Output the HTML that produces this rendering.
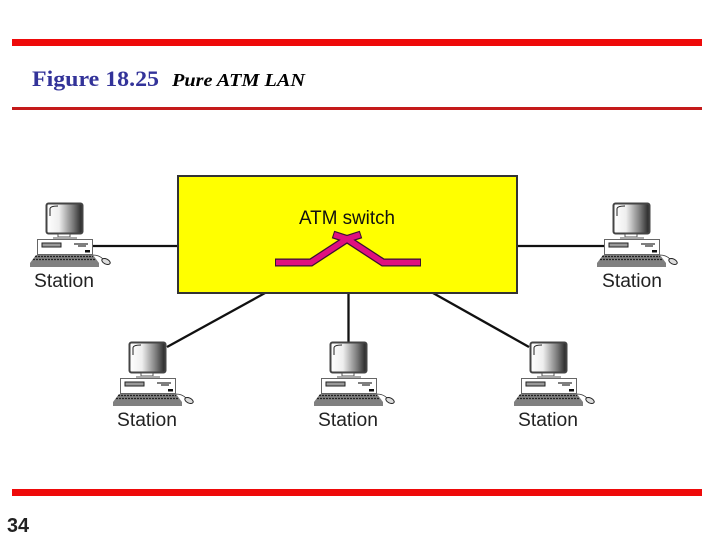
<!DOCTYPE html>
<html>
<head>
<meta charset="utf-8">
<style>
html,body{margin:0;padding:0;background:#fff;width:720px;height:540px;overflow:hidden}
svg{display:block}
</style>
</head>
<body>
<svg width="720" height="540" viewBox="0 0 720 540" xmlns="http://www.w3.org/2000/svg">
<defs>
<linearGradient id="scr" x1="0" y1="0" x2="1" y2="0">
<stop offset="0" stop-color="#fff"/><stop offset=".35" stop-color="#eee"/><stop offset=".75" stop-color="#777"/><stop offset="1" stop-color="#222"/>
</linearGradient>
<g id="st">
<rect x="46.5" y="203.5" width="36" height="30" rx="2" fill="url(#scr)" stroke="#444" stroke-width="2"/>
<path d="M50 216 V209 Q50 206 58 206" fill="none" stroke="#222" stroke-width="1"/>
<rect x="58" y="234" width="12" height="3" fill="#fff" stroke="#555" stroke-width="1"/>
<rect x="53" y="237" width="24" height="2" fill="#aaa"/>
<rect x="37.5" y="239.5" width="55" height="15" fill="#fff" stroke="#666" stroke-width="1"/>
<rect x="42" y="243" width="19" height="4" fill="#999" stroke="#222" stroke-width="1"/>
<path d="M74 244 H88 M78 246 H86" stroke="#333" stroke-width="1.2"/>
<rect x="85" y="250" width="5" height="2.5" fill="#111"/>
<path d="M36 255 H93 L99 263 V267 H30 V263 Z" fill="#808080"/>
<path d="M35 256.500 H93 M33 259.500 H95" stroke="#222" stroke-width="1.200" stroke-dasharray="2 1"/>
<path d="M93 255 Q99 255 103 259" fill="none" stroke="#333" stroke-width=".8"/>
<ellipse cx="106" cy="261.500" rx="4.500" ry="2.500" transform="rotate(25 106 261.500)" fill="#ddd" stroke="#222" stroke-width="1"/>
</g>
</defs>

<rect x="12" y="39" width="690" height="7" fill="#ee0a0a"/>
<rect x="12" y="107" width="690" height="3" fill="#c41a1a"/>
<rect x="12" y="489" width="690" height="7" fill="#ee0a0a"/>

<text x="32" y="86" font-family="'Liberation Serif',serif" font-weight="bold" font-size="22" fill="#333399" textLength="127" lengthAdjust="spacingAndGlyphs">Figure 18.25</text>
<text x="172" y="86" font-family="'Liberation Serif',serif" font-weight="bold" font-style="italic" font-size="18" fill="#000" textLength="133" lengthAdjust="spacingAndGlyphs">Pure ATM LAN</text>
<text x="7" y="532" font-family="'Liberation Sans',sans-serif" font-weight="bold" font-size="20" fill="#222" textLength="22" lengthAdjust="spacingAndGlyphs">34</text>

<g stroke="#111" stroke-width="2.300" fill="none">
<path d="M92 246 H178"/>
<path d="M517 246 H606"/>
<path d="M265 293 L167 347"/>
<path d="M348.500 293 V343"/>
<path d="M433 293 L529 347"/>
</g>

<rect x="178" y="176" width="339" height="117" fill="#ffff00" stroke="#333" stroke-width="2"/>

<text x="299" y="224" font-family="'Liberation Sans',sans-serif" font-size="19" fill="#111" textLength="96" lengthAdjust="spacingAndGlyphs">ATM switch</text>

<g fill="none" stroke-linejoin="miter">
<path d="M275 262.500 H311 L347 239 L361 234.500" stroke="#3a1030" stroke-width="8"/>
<path d="M421 262.500 H383 L347 239 L333 234.500" stroke="#3a1030" stroke-width="8"/>
<path d="M276 262.500 H311 L347 239 L360 234.800" stroke="#e0107f" stroke-width="5.500"/>
<path d="M420 262.500 H383 L347 239 L334 234.800" stroke="#e0107f" stroke-width="5.500"/>
</g>

<use href="#st"/>
<use href="#st" transform="translate(567 0)"/>
<use href="#st" transform="translate(83 139)"/>
<use href="#st" transform="translate(284 139)"/>
<use href="#st" transform="translate(484 139)"/>

<g font-family="'Liberation Sans',sans-serif" font-size="19" fill="#222">
<text x="34" y="287" textLength="60" lengthAdjust="spacingAndGlyphs">Station</text>
<text x="602" y="287" textLength="60" lengthAdjust="spacingAndGlyphs">Station</text>
<text x="117" y="426" textLength="60" lengthAdjust="spacingAndGlyphs">Station</text>
<text x="318" y="426" textLength="60" lengthAdjust="spacingAndGlyphs">Station</text>
<text x="518" y="426" textLength="60" lengthAdjust="spacingAndGlyphs">Station</text>
</g>
</svg>
</body>
</html>
